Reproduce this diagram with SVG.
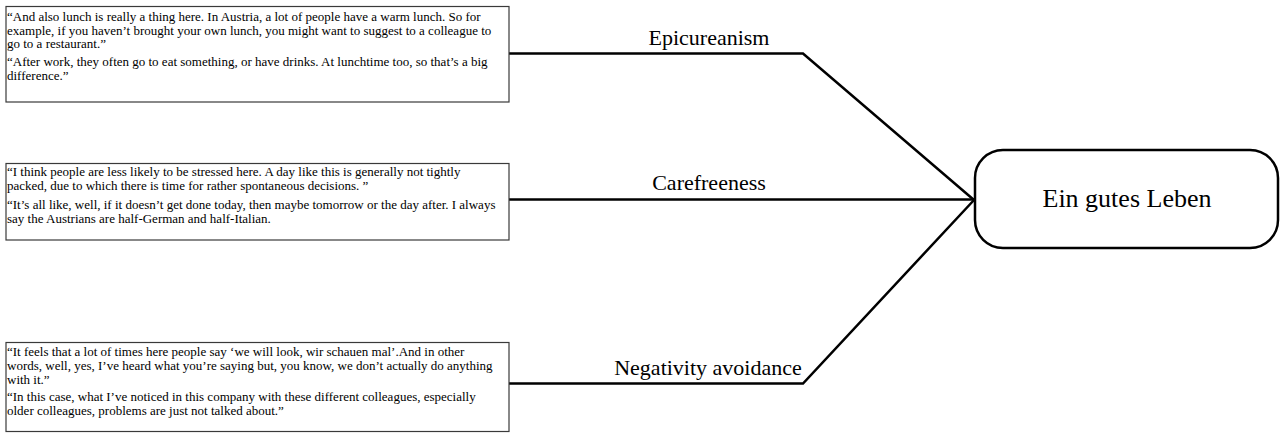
<svg xmlns="http://www.w3.org/2000/svg" width="1282" height="435" viewBox="0 0 1282 435">
<style>
.box{fill:#fff;stroke:#3a3a3a;stroke-width:1.2}
.q{font-family:"Liberation Serif","Times New Roman",serif;font-size:13px;fill:#000}
.lbl{font-family:"Liberation Serif","Times New Roman",serif;font-size:22px;fill:#000;text-anchor:middle}
.con{fill:none;stroke:#000;stroke-width:2.5;stroke-linejoin:miter}
.goal{fill:#fff;stroke:#000;stroke-width:2.5}
.gt{font-family:"Liberation Serif","Times New Roman",serif;font-size:26px;fill:#000;text-anchor:middle}
</style>
<rect width="1282" height="435" fill="#fff"/>
<g id="connectors">
<polyline class="con" points="509,53.5 803,53.5 974,200"/>
<polyline class="con" points="509,199.5 974,199.5"/>
<polyline class="con" points="509,383.5 803,383.5 974,200"/>
<text class="lbl" x="709" y="45">Epicureanism</text>
<text class="lbl" x="709" y="190">Carefreeness</text>
<text class="lbl" x="708" y="375">Negativity avoidance</text>
</g>
<g id="box-epicureanism">
<rect class="box" x="6" y="6.5" width="503" height="95.5"/>
<text class="q" x="7" y="20.7">“And also lunch is really a thing here. In Austria, a lot of people have a warm lunch. So for</text>
<text class="q" x="7" y="34.5">example, if you haven’t brought your own lunch, you might want to suggest to a colleague to</text>
<text class="q" x="7" y="48.3">go to a restaurant.”</text>
<text class="q" x="7" y="65.7">“After work, they often go to eat something, or have drinks. At lunchtime too, so that’s a big</text>
<text class="q" x="7" y="79.7">difference.”</text>
</g>
<g id="box-carefreeness">
<rect class="box" x="6" y="163.5" width="503" height="76.5"/>
<text class="q" x="7" y="176">“I think people are less likely to be stressed here. A day like this is generally not tightly</text>
<text class="q" x="7" y="190">packed, due to which there is time for rather spontaneous decisions. ”</text>
<text class="q" x="7" y="208.5">“It’s all like, well, if it doesn’t get done today, then maybe tomorrow or the day after. I always</text>
<text class="q" x="7" y="222.5">say the Austrians are half-German and half-Italian.</text>
</g>
<g id="box-negativity">
<rect class="box" x="6" y="342.5" width="503" height="89"/>
<text class="q" x="7" y="356">“It feels that a lot of times here people say ‘we will look, wir schauen mal’.And in other</text>
<text class="q" x="7" y="370">words, well, yes, I’ve heard what you’re saying but, you know, we don’t actually do anything</text>
<text class="q" x="7" y="383.5">with it.”</text>
<text class="q" x="7" y="401">“In this case, what I’ve noticed in this company with these different colleagues, especially</text>
<text class="q" x="7" y="415">older colleagues, problems are just not talked about.”</text>
</g>
<g id="node-ein-gutes-leben">
<rect class="goal" x="975" y="150" width="303" height="98" rx="28" ry="28"/>
<text class="gt" x="1127" y="207">Ein gutes Leben</text>
</g>
</svg>
